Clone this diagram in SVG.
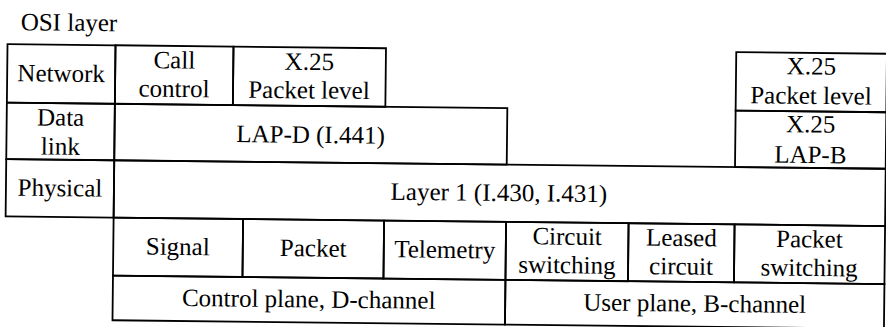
<svg xmlns="http://www.w3.org/2000/svg" width="886" height="327" viewBox="0 0 886 327">
<style>
rect.c{fill:none;stroke:#000;stroke-width:1.8}
text{font-family:"Liberation Serif","Times New Roman",serif;font-size:25px;fill:#000;text-anchor:middle}
text.l{text-anchor:start}
</style>
<rect x="0" y="0" width="886" height="327" fill="#fff"/>
<g transform="rotate(0.63)">
<text class="l" x="21" y="30">OSI layer</text>
<g id="label-network"><rect class="c" x="8" y="44" width="108" height="58.5"/><text x="62" y="81">Network</text></g>
<g id="label-datalink"><rect class="c" x="8" y="102.5" width="108" height="56.5"/><text x="62" y="125">Data</text><text x="62" y="154">link</text></g>
<g id="label-physical"><rect class="c" x="8" y="159" width="108" height="57.3"/><text x="62" y="195.5">Physical</text></g>
<g id="call-control"><rect class="c" x="116" y="44" width="118" height="58.5"/><text x="175" y="66.5">Call</text><text x="175" y="95">control</text></g>
<g id="x25-packet-left"><rect class="c" x="234" y="44" width="152.5" height="58.5"/><text x="310" y="66.5">X.25</text><text x="310" y="95">Packet level</text></g>
<g id="lapd"><rect class="c" x="116" y="102.5" width="392.5" height="56.5"/><text x="312" y="139.5">LAP-D (I.441)</text></g>
<g id="x25-packet-right"><rect class="c" x="736.8" y="44" width="150.7" height="58.5"/><text x="812" y="65.5">X.25</text><text x="812" y="95">Packet level</text></g>
<g id="x25-lapb"><rect class="c" x="736.8" y="102.5" width="150.7" height="56.5"/><text x="812" y="123.5">X.25</text><text x="812" y="154">LAP-B</text></g>
<g id="layer1"><rect class="c" x="116" y="159" width="771.5" height="57.3"/><text x="501" y="195.5">Layer 1 (I.430, I.431)</text></g>
<g id="signal"><rect class="c" x="116" y="216.3" width="129.5" height="58"/><text x="180.5" y="253">Signal</text></g>
<g id="packet"><rect class="c" x="245.5" y="216.3" width="141" height="58"/><text x="316" y="253">Packet</text></g>
<g id="telemetry"><rect class="c" x="386.5" y="216.3" width="122" height="58"/><text x="447.5" y="253">Telemetry</text></g>
<g id="circuit-switching"><rect class="c" x="508.5" y="216.3" width="122.5" height="58"/><text x="569.75" y="238.5">Circuit</text><text x="569.75" y="267">switching</text></g>
<g id="leased-circuit"><rect class="c" x="631" y="216.3" width="106" height="58"/><text x="684" y="238.5">Leased</text><text x="684" y="267">circuit</text></g>
<g id="packet-switching"><rect class="c" x="737" y="216.3" width="150.5" height="58"/><text x="812" y="238.5">Packet</text><text x="812" y="267">switching</text></g>
<g id="control-plane"><rect class="c" x="116" y="274.3" width="392.5" height="44.7"/><text x="312" y="304">Control plane, D-channel</text></g>
<g id="user-plane"><rect class="c" x="508.5" y="274.3" width="379" height="44.7"/><text x="698" y="304">User plane, B-channel</text></g>
<g id="connectors"></g>
</g>
</svg>
